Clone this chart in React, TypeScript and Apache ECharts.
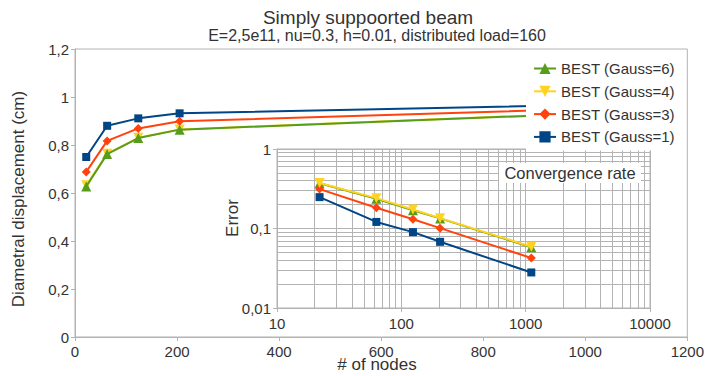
import React, { useEffect, useRef } from 'react';
import * as echarts from 'echarts';

// ---- data ----
const nodes = [22, 63, 124, 205, 1110];

const seriesNames = ['BEST (Gauss=6)', 'BEST (Gauss=4)', 'BEST (Gauss=3)', 'BEST (Gauss=1)'];

const dispGauss6 = [0.627, 0.762, 0.829, 0.864, 0.94];
const dispGauss4 = [0.632, 0.764, 0.83, 0.865, 0.941];
const dispGauss3 = [0.688, 0.817, 0.869, 0.899, 0.957];
const dispGauss1 = [0.75, 0.88, 0.911, 0.932, 0.972];

const errGauss6 = [0.37, 0.236, 0.17, 0.134, 0.058];
const errGauss4 = [0.373, 0.241, 0.173, 0.135, 0.059];
const errGauss3 = [0.313, 0.182, 0.131, 0.101, 0.0426];
const errGauss1 = [0.248, 0.121, 0.09, 0.068, 0.028];

// minor log grid positions of the inset
const insetMinorX = [20, 30, 40, 50, 60, 70, 80, 90, 200, 300, 400, 500, 600, 700, 800, 900, 2000, 3000, 4000, 5000, 6000, 7000, 8000, 9000];
const insetMinorY = [0.02, 0.03, 0.04, 0.05, 0.06, 0.07, 0.08, 0.09, 0.2, 0.3, 0.4, 0.5, 0.6, 0.7, 0.8, 0.9];

const titleText = 'Simply suppoorted beam';
const subtitleText = 'E=2,5e11, nu=0.3, h=0.01, distributed load=160';

const FONT = 'Liberation Sans';
const TXT = '#333333';
const AXIS = '#b3b3b3';

const styles = [
  { name: seriesNames[0], color: '#579d1c', symbol: 'triangle', size: 10, rotate: 0, disp: dispGauss6, err: errGauss6, zMain: 5, zInset: 3 },
  { name: seriesNames[1], color: '#ffd320', symbol: 'triangle', size: 10, rotate: 180, disp: dispGauss4, err: errGauss4, zMain: 3, zInset: 5 },
  { name: seriesNames[2], color: '#ff420e', symbol: 'diamond', size: 9, rotate: 0, disp: dispGauss3, err: errGauss3, zMain: 4, zInset: 4 },
  { name: seriesNames[3], color: '#004586', symbol: 'rect', size: 8, rotate: 0, disp: dispGauss1, err: errGauss1, zMain: 6, zInset: 6 },
];

const fmtComma = (v: number) => String(Number(v.toPrecision(6))).replace('.', ',');

export default function App() {
  const ref = useRef<HTMLDivElement>(null);

  useEffect(() => {
    if (!ref.current) return;
    const chart = echarts.init(ref.current, null, { renderer: 'svg' });

    const mainSeries = styles.map((s) => ({
      type: 'line',
      name: s.name,
      xAxisIndex: 0,
      yAxisIndex: 0,
      data: nodes.map((n, i) => [n, s.disp[i]]),
      symbol: s.symbol,
      symbolSize: s.size,
      symbolRotate: s.rotate,
      showAllSymbol: true,
      lineStyle: { color: s.color, width: 2 },
      itemStyle: { color: s.color },
      z: s.zMain,
      silent: true,
    }));

    const insetSeries = styles.map((s) => ({
      type: 'line',
      name: s.name,
      xAxisIndex: 1,
      yAxisIndex: 1,
      data: nodes.map((n, i) => [n, s.err[i]]),
      symbol: s.symbol,
      symbolSize: s.size,
      symbolRotate: s.rotate,
      showAllSymbol: true,
      lineStyle: { color: s.color, width: 2 },
      itemStyle: { color: s.color },
      z: s.zInset,
      silent: true,
    }));

    const gridSeries = {
      type: 'line',
      xAxisIndex: 1,
      yAxisIndex: 1,
      data: [],
      silent: true,
      markLine: {
        silent: true,
        z: 1,
        animation: false,
        symbol: ['none', 'none'],
        label: { show: false },
        lineStyle: { color: AXIS, width: 1, type: 'solid' },
        emphasis: { disabled: true },
        data: [
          ...insetMinorX.map((v) => ({ xAxis: v })),
          ...insetMinorY.map((v) => ({ yAxis: v })),
        ],
      },
    };

    const axisCommon = {
      axisLine: { show: true, lineStyle: { color: AXIS, width: 1 } },
      axisTick: { show: true, length: 4, inside: false, lineStyle: { color: AXIS } },
    };

    chart.setOption({
      animation: false,
      textStyle: { fontFamily: FONT },
      grid: [
        { left: 75, top: 49, right: 18, bottom: 39, show: true, borderColor: AXIS, borderWidth: 1, backgroundColor: 'transparent' },
        { left: 277, top: 149, right: 57, bottom: 68, show: true, borderColor: AXIS, borderWidth: 1, backgroundColor: 'transparent' },
      ],
      xAxis: [
        {
          gridIndex: 0,
          type: 'value',
          min: 0,
          max: 1200,
          interval: 200,
          ...axisCommon,
          splitLine: { show: false },
          axisLabel: { fontSize: 15, color: TXT, margin: 7, formatter: (v: number) => String(v) },
        },
        {
          gridIndex: 1,
          type: 'log',
          logBase: 10,
          min: 10,
          max: 10000,
          ...axisCommon,
          splitLine: { show: true, lineStyle: { color: AXIS, width: 1 } },
          axisLabel: { fontSize: 15, color: TXT, margin: 8, formatter: (v: number) => String(Math.round(v)) },
        },
      ],
      yAxis: [
        {
          gridIndex: 0,
          type: 'value',
          min: 0,
          max: 1.2,
          interval: 0.2,
          ...axisCommon,
          splitLine: { show: false },
          axisLabel: { fontSize: 15, color: TXT, margin: 6, formatter: (v: number) => fmtComma(v) },
        },
        {
          gridIndex: 1,
          type: 'log',
          logBase: 10,
          min: 0.01,
          max: 1,
          ...axisCommon,
          splitLine: { show: true, lineStyle: { color: AXIS, width: 1 } },
          axisLabel: { fontSize: 15, color: TXT, margin: 6, formatter: (v: number) => fmtComma(v) },
        },
      ],
      legend: {
        data: seriesNames,
        orient: 'vertical',
        left: 526,
        top: 55,
        padding: [6, 9, 6, 7],
        itemWidth: 22,
        itemHeight: 14,
        itemGap: 7.8,
        backgroundColor: '#ffffff',
        selectedMode: false,
        z: 20,
        textStyle: { fontSize: 15, color: TXT, fontFamily: FONT, lineHeight: 14 },
      },
      graphic: [
        {
          type: 'text',
          x: 368,
          y: 17,
          z: 50,
          style: { text: titleText, fontSize: 19, fontFamily: FONT, fill: TXT, align: 'center', verticalAlign: 'middle' },
        },
        {
          type: 'text',
          x: 377,
          y: 35,
          z: 50,
          style: { text: subtitleText, fontSize: 16, fontFamily: FONT, fill: TXT, align: 'center', verticalAlign: 'middle' },
        },
        {
          type: 'text',
          x: 18,
          y: 199,
          rotation: Math.PI / 2,
          z: 50,
          style: { text: 'Diametral displacement (cm)', fontSize: 17, fontFamily: FONT, fill: TXT, align: 'center', verticalAlign: 'middle' },
        },
        {
          type: 'text',
          x: 377,
          y: 364,
          z: 50,
          style: { text: '# of nodes', fontSize: 17, fontFamily: FONT, fill: TXT, align: 'center', verticalAlign: 'middle' },
        },
        {
          type: 'text',
          x: 232,
          y: 218,
          rotation: Math.PI / 2,
          z: 50,
          style: { text: 'Error', fontSize: 17, fontFamily: FONT, fill: TXT, align: 'center', verticalAlign: 'middle' },
        },
        {
          type: 'group',
          z: 100,
          children: [
            { type: 'rect', z: 100, shape: { x: 499, y: 163, width: 142, height: 20 }, style: { fill: '#ffffff' } },
            {
              type: 'text',
              z: 101,
              x: 570,
              y: 173,
              style: { text: 'Convergence rate', fontSize: 16.5, fontFamily: FONT, fill: TXT, align: 'center', verticalAlign: 'middle' },
            },
          ],
        },
      ],
      series: [gridSeries, ...mainSeries, ...insetSeries],
    });

    return () => {
      chart.dispose();
    };
  }, []);

  return <div ref={ref} style={{ position: 'fixed', left: 0, top: 0, width: 707, height: 376, background: '#ffffff' }} />;
}
